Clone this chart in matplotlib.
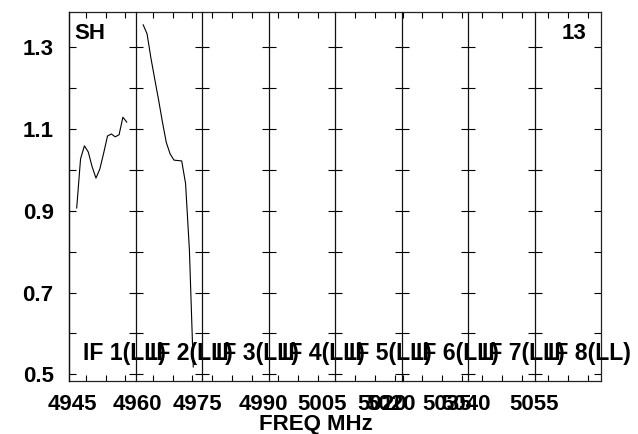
import numpy as np
import matplotlib
matplotlib.use('Agg')
import matplotlib.pyplot as plt

# bandpass amplitude per IF (channels 1..14), only IF 1 and IF 2 have data
if_names = ['IF 1(LL)', 'IF 2(LL)', 'IF 3(LL)', 'IF 4(LL)',
            'IF 5(LL)', 'IF 6(LL)', 'IF 7(LL)', 'IF 8(LL)']
channels = np.arange(1, 15)
if1_amp = [0.907, 1.027, 1.059, 1.044, 1.008, 0.980, 1.002,
           1.041, 1.083, 1.088, 1.081, 1.086, 1.129, 1.117]
if2_amp = [1.355, 1.333, 1.274, 1.222, 1.171, 1.117, 1.067,
           1.039, 1.024, 1.023, 1.022, 0.967, 0.804, 0.518]
if_amp = [if1_amp, if2_amp, [], [], [], [], [], []]

freq_labels = ['4945', '4960', '4975', '4990', '5005', '5020', '5020',
               '5035', '5040', '5055']
source_name = 'SH'
antenna_no = '13'

# layout (pixels)
W, H = 638, 434
L, R, T, B = 69, 601, 12, 381
pw = (R - L) / 8
label_x = [3, 68, 128, 194, 253, 313, 322, 378, 397, 465]
tick_x = [17, 37, 56, 84, 104, 123, 143, 163, 183, 209, 229, 249,
          286, 306, 326, 334, 353, 373, 393, 413, 433, 453, 479, 499, 519]
ymin, ymax = 0.4836, 1.3864

plt.rcParams['font.family'] = 'Liberation Sans'
plt.rcParams['font.weight'] = 'bold'
plt.rcParams['font.size'] = 16

fig = plt.figure(figsize=(W / 100, H / 100), dpi=100)

# outer frame: freq labels, top/bottom ticks, y axis
frame = fig.add_axes([L / W, 1 - B / H, (R - L) / W, (B - T) / H])
frame.set_xlim(0, R - L)
frame.set_ylim(ymin, ymax)
for s in frame.spines.values():
    s.set_linewidth(0.9)
    s.set_color('#222222')
frame.set_xticks(label_x, freq_labels)
frame.set_xticks(tick_x, minor=True)
frame.tick_params(axis='x', which='major', length=0, pad=9)
frame.tick_params(axis='x', which='minor', direction='in', length=4.5,
                  width=0.8, top=True, bottom=True)
yt = np.round(np.arange(0.5, 1.31, 0.1), 1)
frame.set_yticks(yt, [f'{v:.1f}' if i % 2 == 0 else '' for i, v in enumerate(yt)])
frame.tick_params(axis='y', direction='in', length=5, width=0.8,
                  left=True, right=True, pad=11)

# one panel per IF
for i in range(8):
    ax = fig.add_axes([(L + i * pw) / W, 1 - B / H, pw / W, (B - T) / H])
    ax.patch.set_alpha(0)
    ax.set_xlim(channels[0] - 2, channels[0] - 2 + 17.27)
    ax.set_ylim(ymin, ymax)
    for side in ['top', 'bottom', 'right']:
        ax.spines[side].set_visible(False)
    ax.spines['left'].set_linewidth(0.9)
    ax.spines['left'].set_color('#111111')
    ax.set_xticks([])
    if i == 0:
        ax.set_yticks([])
    else:
        ax.set_yticks(yt, [''] * len(yt))
        ax.tick_params(axis='y', direction='inout', length=10, width=0.8)
    if len(if_amp[i]):
        ax.plot(channels, if_amp[i], color='black', lw=0.8)
    ax.text(14 / pw, (B - 360) / (B - T), if_names[i], transform=ax.transAxes,
            va='baseline', ha='left', clip_on=False, zorder=5, fontsize=16.6)

fig.text(74 / W, 1 - 39 / H, source_name, va='baseline', ha='left')
fig.text(586 / W, 1 - 39 / H, antenna_no, va='baseline', ha='right')
fig.text(315.5 / W, 1 - 430 / H, 'FREQ MHz', va='baseline', ha='center')

fig.savefig('out.png', dpi=100)
